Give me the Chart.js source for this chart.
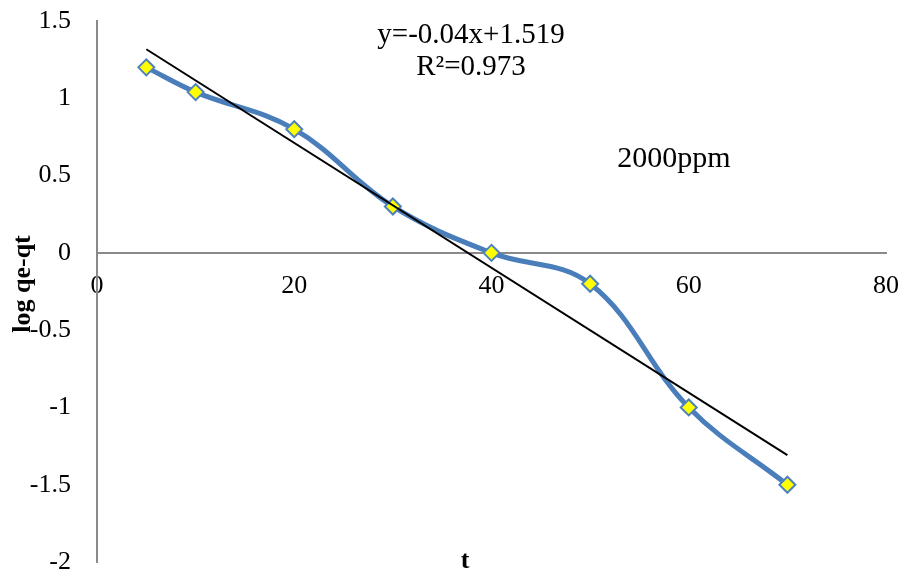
<!DOCTYPE html>
<html>
<head>
<meta charset="utf-8">
<script src="https://cdn.jsdelivr.net/npm/chart.js@4/dist/chart.umd.min.js"></script>
<style>
  html, body { margin: 0; padding: 0; background: #ffffff; }
  #wrap { width: 907px; height: 579px; position: relative; }
</style>
</head>
<body>
<div id="wrap"><canvas id="c" width="907" height="579"></canvas></div>
<script>
// Sampling times and measured log(qe - qt)
const times = [5, 10, 20, 30, 40, 50, 60, 70];
const logQeQt = [1.2, 1.04, 0.8, 0.3, 0, -0.2, -1, -1.5];

// Axis tick values
const xTickValues = [0, 20, 40, 60, 80];
const yTickValues = [-2, -1.5, -1, -0.5, 0, 0.5, 1, 1.5];

const seriesLabel = '2000ppm';
const xTitle = 't';
const yTitle = 'log qe-qt';

// Least-squares linear fit of the measured points
function linearFit(xs, ys) {
  const n = xs.length;
  const mx = xs.reduce((a, b) => a + b, 0) / n;
  const my = ys.reduce((a, b) => a + b, 0) / n;
  let sxy = 0, sxx = 0, syy = 0;
  for (let i = 0; i < n; i++) {
    sxy += (xs[i] - mx) * (ys[i] - my);
    sxx += (xs[i] - mx) * (xs[i] - mx);
    syy += (ys[i] - my) * (ys[i] - my);
  }
  const slope = sxy / sxx;
  return { slope, intercept: my - slope * mx, r2: (sxy * sxy) / (sxx * syy) };
}
const fit = linearFit(times, logQeQt);
const fitStart = times[0];
const fitEnd = times[times.length - 1];

const points = times.map((t, i) => ({ x: t, y: logQeQt[i] }));
const trendPoints = [fitStart, fitEnd].map(t => ({ x: t, y: fit.slope * t + fit.intercept }));

const serif = "'Liberation Serif', 'Times New Roman', serif";
const axisGrey = '#898989';

// Scales keep no extra label padding; the layout padding sets the plot box
function noPadding(scale) {
  scale.paddingTop = 0;
  scale.paddingBottom = 0;
  scale.paddingLeft = 0;
  scale.paddingRight = 0;
}

// Equation, R² and series caption plus axis titles
const textPlugin = {
  id: 'chartText',
  afterDraw(chart) {
    const ctx = chart.ctx;
    ctx.save();
    ctx.fillStyle = '#000000';
    ctx.textAlign = 'center';
    ctx.textBaseline = 'middle';
    ctx.font = "29px " + serif;
    const eq = 'y=' + fit.slope.toFixed(2) + 'x+' + fit.intercept.toFixed(3);
    ctx.fillText(eq, 471, 35);
    ctx.fillText('R\u00B2=' + fit.r2.toFixed(3), 471, 67);
    ctx.font = "30px " + serif;
    ctx.fillText(seriesLabel, 674, 159);

    ctx.font = "bold 26px " + serif;
    ctx.fillText(xTitle, 465, 561);
    ctx.translate(23, 284);
    ctx.rotate(-Math.PI / 2);
    ctx.fillText(yTitle, 0, 0);
    ctx.restore();
  }
};

new Chart(document.getElementById('c'), {
  type: 'line',
  data: {
    datasets: [
      {
        label: seriesLabel,
        data: points,
        borderColor: '#4a7ebb',
        borderWidth: 5,
        tension: 0.38,
        pointStyle: 'rectRot',
        pointRadius: 8,
        pointBorderWidth: 2,
        pointBackgroundColor: '#ffff00',
        pointBorderColor: '#4f81bd',
        order: 1
      },
      {
        label: 'Linear fit',
        data: trendPoints,
        borderColor: '#000000',
        borderWidth: 2,
        pointRadius: 0,
        tension: 0,
        order: 0
      }
    ]
  },
  options: {
    responsive: false,
    animation: false,
    layout: { padding: { left: 0, right: 21, top: 21, bottom: 17 } },
    plugins: { legend: { display: false }, tooltip: { enabled: false } },
    scales: {
      x: {
        type: 'linear',
        position: { y: 0 },
        min: 0,
        max: 80,
        afterBuildTicks(scale) { scale.ticks = xTickValues.map(v => ({ value: v })); },
        afterFit: noPadding,
        grid: { display: false, drawTicks: false },
        border: { display: true, color: axisGrey, width: 2 },
        ticks: {
          padding: 18,
          color: '#000000',
          font: { family: serif, size: 26 },
          callback: v => String(v)
        }
      },
      y: {
        type: 'linear',
        position: 'left',
        min: -2,
        max: 1.5,
        afterBuildTicks(scale) { scale.ticks = yTickValues.map(v => ({ value: v })); },
        afterFit(scale) { noPadding(scale); scale.width = 97; },
        grid: { display: false, drawTicks: false },
        border: { display: true, color: axisGrey, width: 2 },
        ticks: {
          padding: 26,
          color: '#000000',
          font: { family: serif, size: 26 },
          callback: v => String(v)
        }
      }
    }
  },
  plugins: [textPlugin]
});
</script>
</body>
</html>
